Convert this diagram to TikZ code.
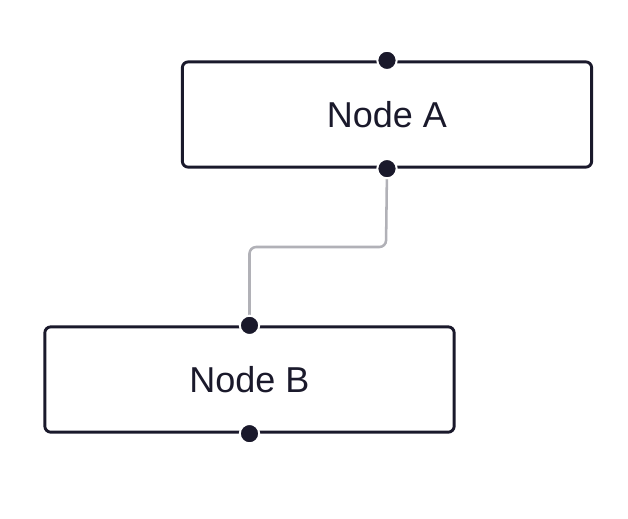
\documentclass[tikz,border=0pt]{standalone}
\usepackage{fontspec}
\setmainfont{Liberation Sans}
\usepackage{tikz}
\usetikzlibrary{positioning}
\definecolor{flowink}{HTML}{1A192B}
\definecolor{flowedge}{HTML}{B1B1B7}

\tikzset{
  flownode/.style={draw=flowink, line width=2.2pt, rounded corners=4.5pt,
    minimum width=307pt, minimum height=79pt, text=flowink,
    font=\fontsize{27}{31}\selectfont},
  handle/.style={circle, fill=flowink, draw=white, line width=1.5pt,
    inner sep=0pt, minimum size=14.5pt},
  flowedge/.style={draw=flowedge, line width=1.9pt, rounded corners=5pt}
}

\begin{document}
\begin{tikzpicture}[x=0.75pt, y=-0.75pt]
    \useasboundingbox (0,0) rectangle (628,518);
    % the two boxes
    \node[flownode] (a) at (387,114.5) {Node A};
    \node[flownode] (b) at (249.5,379.5) {Node B};

    % edge A -> B
    \coordinate (bend) at (386,247);
    \draw[flowedge] (a.south) -- (bend) -| (b.north);

    % handles
    \node[handle] (atop) at (a.north) {};
    \node[handle] (abot) at (a.south) {};
    \node[handle] (btop) at (b.north) {};
    \node[handle] (bbot) at (b.south) {};
\end{tikzpicture}
\end{document}
